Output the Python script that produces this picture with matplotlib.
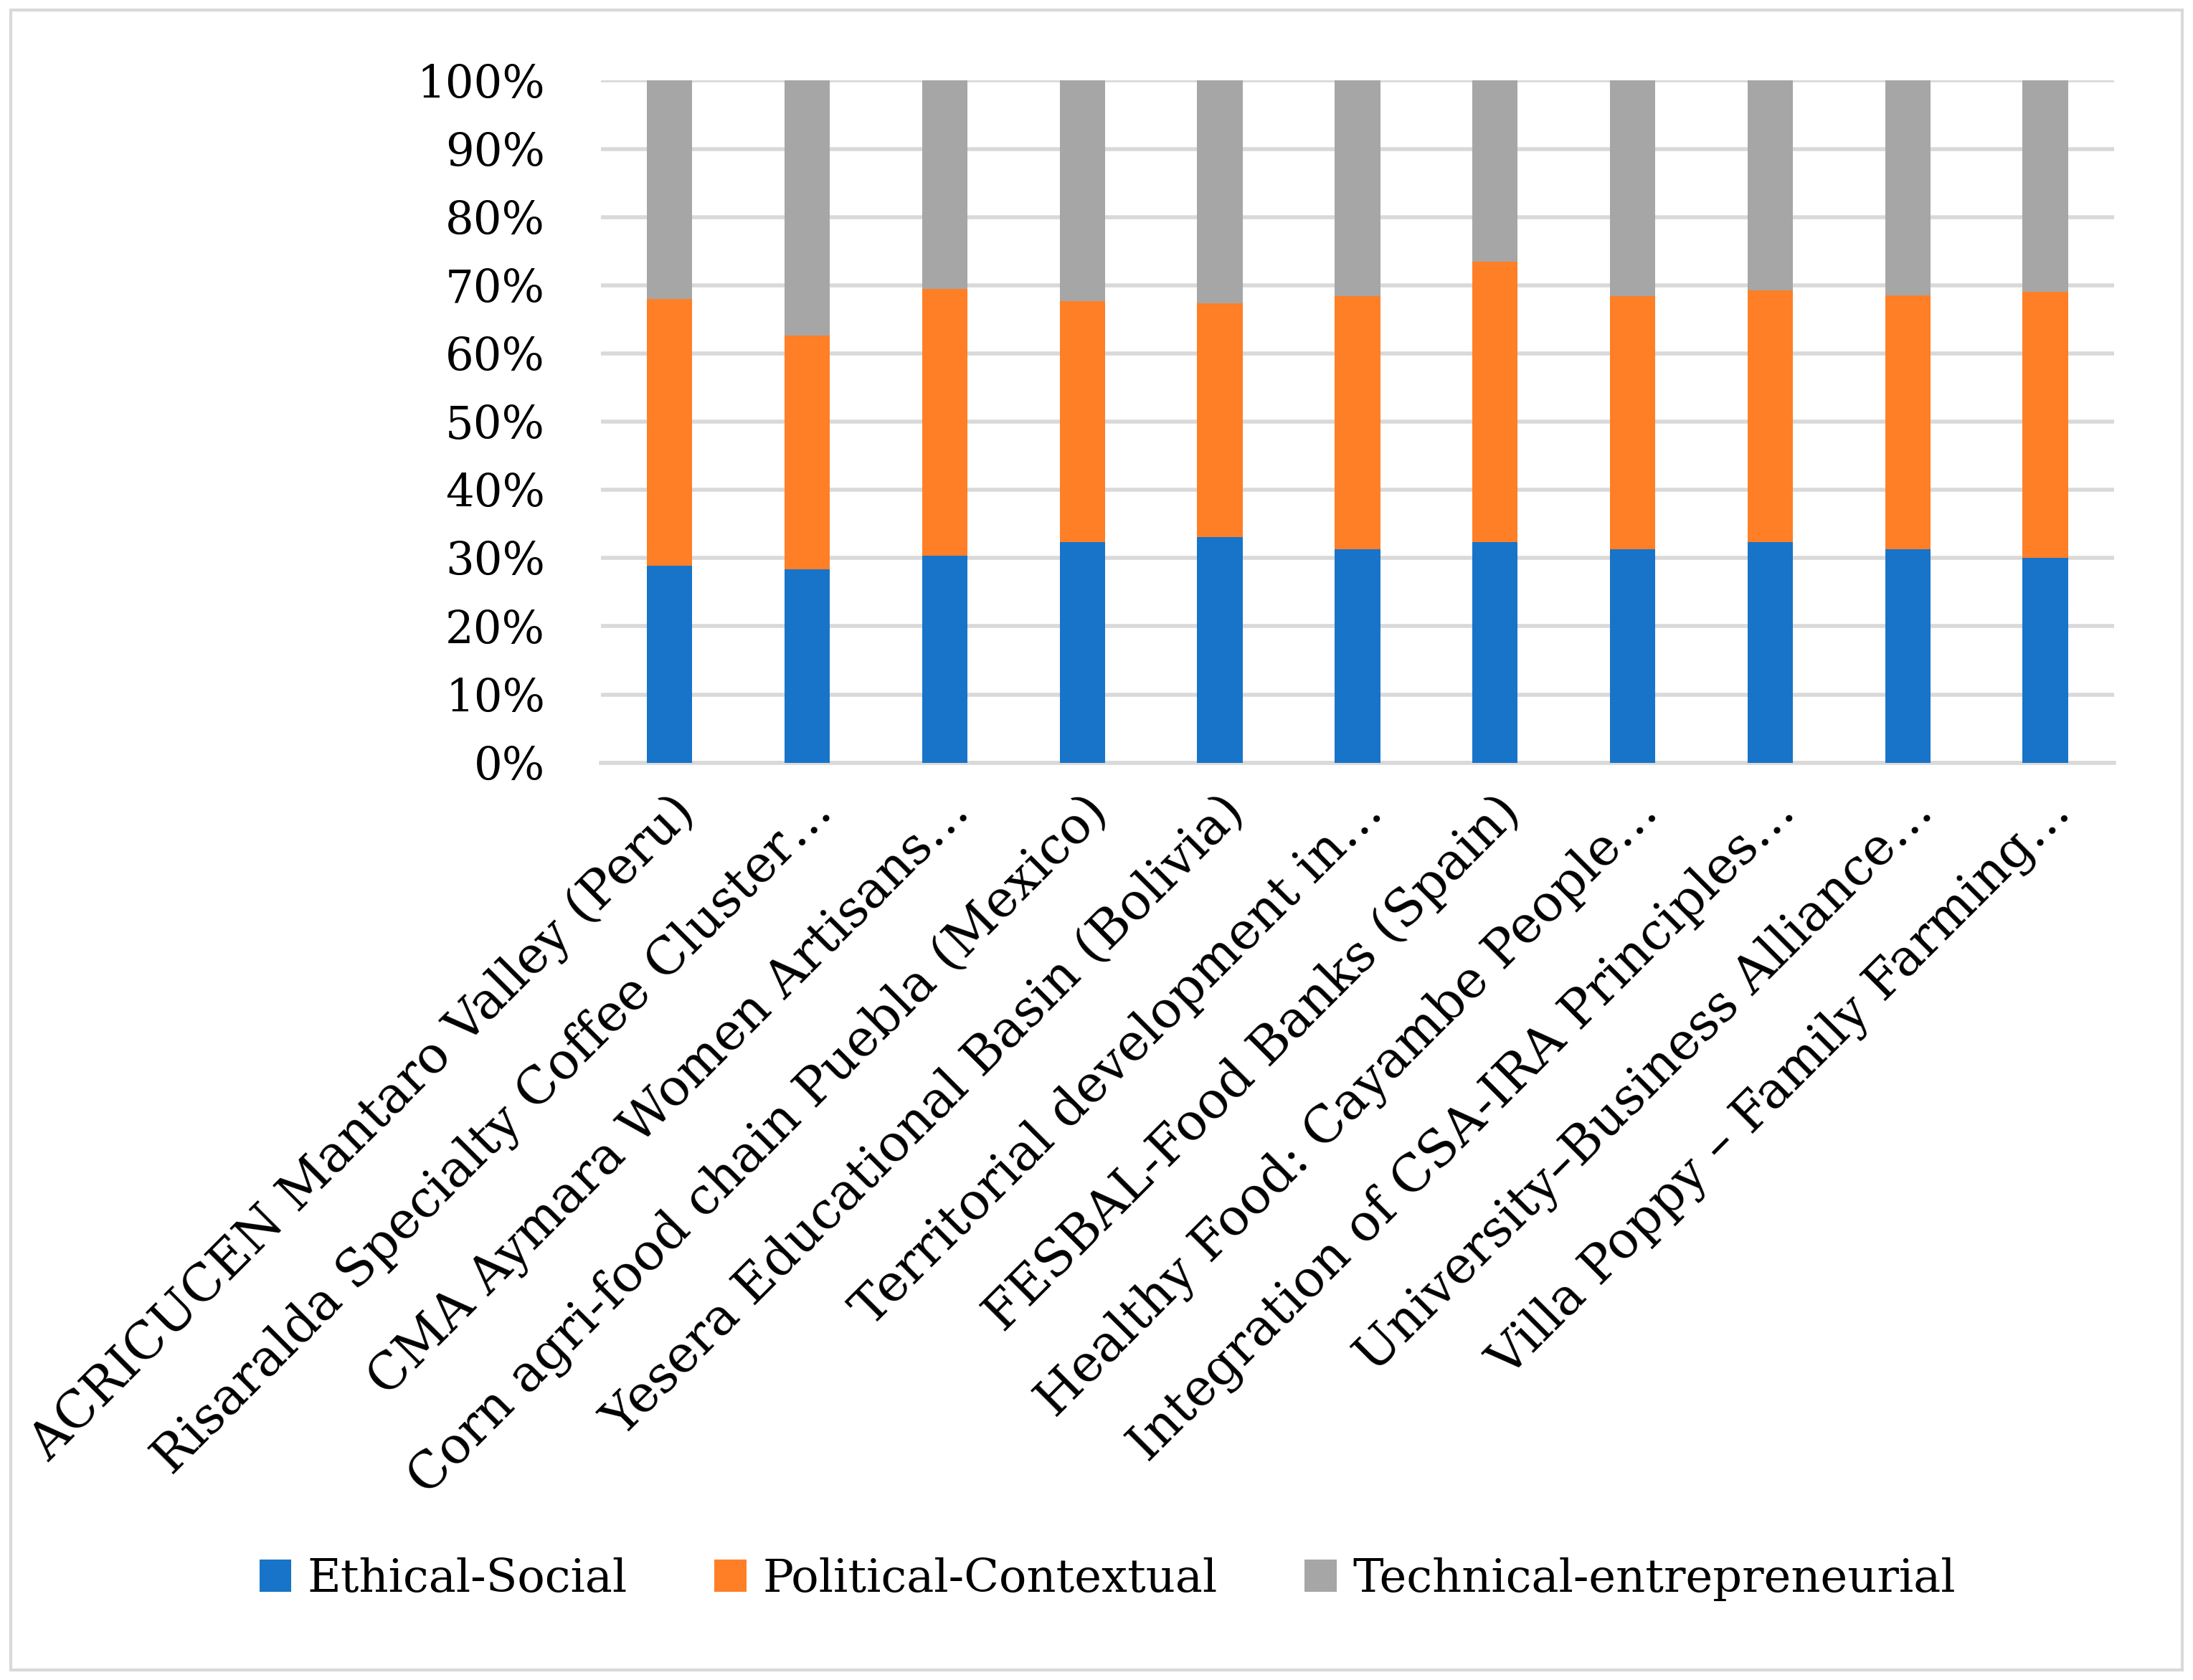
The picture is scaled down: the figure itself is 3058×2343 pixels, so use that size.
import matplotlib.pyplot as plt
from matplotlib.patches import Rectangle
import numpy as np

# Categorias (rótulos do eixo x)
casos = [
    "ACRICUCEN Mantaro Valley (Peru)",
    "Risaralda Specialty Coffee Cluster…",
    "CMA Aymara Women Artisans…",
    "Corn agri-food chain Puebla (Mexico)",
    "Yesera Educational Basin (Bolivia)",
    "Territorial development in…",
    "FESBAL-Food Banks (Spain)",
    "Healthy Food: Cayambe People…",
    "Integration of CSA-IRA Principles…",
    "University–Business Alliance…",
    "Villa Poppy – Family Farming…",
]

# Valores (percentagem de cada dimensão)
etico_social = [28.9, 28.4, 30.4, 32.3, 33.1, 31.3, 32.3, 31.3, 32.3, 31.3, 30.0]
politico_contextual = [39.1, 34.2, 39.1, 35.4, 34.3, 37.1, 41.2, 37.1, 36.9, 37.2, 39.0]
tecnico_empreendedor = [32.0, 37.4, 30.5, 32.3, 32.6, 31.6, 26.5, 31.6, 30.8, 31.5, 31.0]

series = ["Ethical-Social", "Political-Contextual", "Technical-entrepreneurial"]
cores = ["#1874C8", "#FF7F27", "#A6A6A6"]

plt.rcParams['font.family'] = ['DejaVu Serif']

fig = plt.figure(figsize=(15.29, 11.715), dpi=200)
ax = fig.add_axes([0.274, 0.546, 0.69, 0.406])

x = np.arange(len(casos))
dados = np.array([etico_social, politico_contextual, tecnico_empreendedor])
totais = dados.sum(axis=0)
perc = dados / totais

# Barras empilhadas a 100%
base = np.zeros(len(casos))
for valores, nome, cor in zip(perc, series, cores):
    ax.bar(x, valores, width=0.33, bottom=base, color=cor, label=nome, zorder=3)
    base += valores

ax.set_xlim(-0.5, len(casos) - 0.5)
ax.set_ylim(0, 1)
ax.set_yticks(np.linspace(0, 1, 11))
ax.set_yticklabels([f"{int(round(v * 100))}%" for v in np.linspace(0, 1, 11)], fontsize=22.5)
ax.yaxis.grid(True, color="#D9D9D9", linewidth=2, zorder=0)
ax.set_axisbelow(True)
ax.tick_params(axis='y', length=0, pad=28)

ax.set_xticks(x)
ax.set_xticklabels(casos, rotation=45, ha='right', rotation_mode='anchor', fontsize=25.5)
ax.tick_params(axis='x', length=0, pad=12)

for lado in ['top', 'right', 'left']:
    ax.spines[lado].set_visible(False)
ax.spines['bottom'].set_color("#D9D9D9")
ax.spines['bottom'].set_linewidth(2)

# Legenda em baixo
fig.legend(loc='center', bbox_to_anchor=(0.505, 0.06), ncol=3, frameon=False,
           fontsize=23, handlelength=0.7, handleheight=0.7, columnspacing=1.9,
           handletextpad=0.35)

# Moldura à volta da figura
fig.patches.append(Rectangle((0.005, 0.006), 0.99, 0.988, transform=fig.transFigure,
                             fill=False, edgecolor="#D9D9D9", linewidth=1.5))

fig.savefig("out.png", dpi=200, facecolor="white")
